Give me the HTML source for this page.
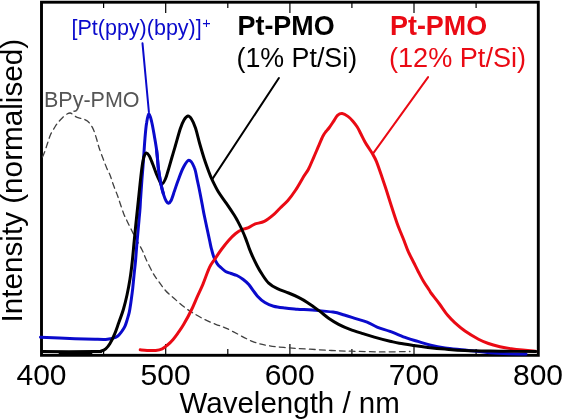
<!DOCTYPE html>
<html><head><meta charset="utf-8"><style>
html,body{margin:0;padding:0;background:#fff;width:562px;height:420px;overflow:hidden}
svg{display:block;will-change:transform;font-family:"Liberation Sans",sans-serif}
</style></head><body>
<svg width="562" height="420" viewBox="0 0 562 420">
<g stroke="#000" stroke-width="1.2"><line x1="103.6" y1="355" x2="103.6" y2="349.0"/><line x1="103.6" y1="2" x2="103.6" y2="8.0"/><line x1="165.7" y1="355" x2="165.7" y2="344.0"/><line x1="165.7" y1="2" x2="165.7" y2="13.0"/><line x1="227.8" y1="355" x2="227.8" y2="349.0"/><line x1="227.8" y1="2" x2="227.8" y2="8.0"/><line x1="289.9" y1="355" x2="289.9" y2="344.0"/><line x1="289.9" y1="2" x2="289.9" y2="13.0"/><line x1="351.9" y1="355" x2="351.9" y2="349.0"/><line x1="351.9" y1="2" x2="351.9" y2="8.0"/><line x1="414.0" y1="355" x2="414.0" y2="344.0"/><line x1="414.0" y1="2" x2="414.0" y2="13.0"/><line x1="476.1" y1="355" x2="476.1" y2="349.0"/><line x1="476.1" y1="2" x2="476.1" y2="8.0"/></g>
<rect x="41.5" y="2.2" width="496.8" height="353.1" fill="none" stroke="#000" stroke-width="2.9"/>
<g fill="none" stroke-linejoin="round" stroke-linecap="round">
<path d="M42.5,157.0 C42.9,156.2 43.9,153.8 44.6,152.0 C45.3,150.2 45.9,148.3 46.5,146.4 C47.1,144.5 47.7,142.7 48.4,140.7 C49.1,138.7 49.5,136.8 50.6,134.5 C51.7,132.2 53.6,129.1 54.9,127.0 C56.2,124.9 57.1,123.7 58.5,122.0 C59.9,120.3 61.7,118.4 63.2,117.0 C64.7,115.6 66.2,114.5 67.4,113.8 C68.6,113.1 69.4,112.9 70.3,113.0 C71.2,113.1 71.9,113.9 73.0,114.6 C74.1,115.3 75.5,116.6 76.7,117.2 C78.0,117.8 79.3,118.0 80.5,118.3 C81.7,118.6 82.8,118.8 84.0,119.2 C85.2,119.7 86.3,120.1 87.4,121.0 C88.5,121.9 89.5,122.9 90.5,124.4 C91.5,125.9 92.6,127.6 93.6,130.0 C94.6,132.4 95.6,135.8 96.6,139.0 C97.6,142.2 97.8,144.2 99.5,149.0 C101.2,153.8 105.0,163.8 106.7,168.1 C108.5,172.4 108.8,172.0 110.0,175.0 C111.2,178.0 112.5,182.6 113.8,186.0 C115.0,189.4 116.5,192.7 117.5,195.5 C118.5,198.3 119.0,200.0 120.0,203.0 C121.0,206.0 122.5,210.6 123.6,213.5 C124.7,216.4 125.6,217.9 126.8,220.5 C128.0,223.1 129.6,226.2 131.0,229.0 C132.4,231.8 133.2,233.6 135.0,237.1 C136.8,240.6 140.2,246.2 142.1,250.0 C144.0,253.8 144.6,256.2 146.4,260.0 C148.2,263.8 150.9,269.3 152.9,272.9 C154.9,276.5 156.5,278.4 158.6,281.4 C160.7,284.4 163.1,287.8 165.7,290.7 C168.3,293.6 171.2,295.9 174.3,298.6 C177.4,301.3 181.2,304.7 184.3,307.1 C187.4,309.5 189.6,310.9 192.9,312.9 C196.2,314.9 200.5,317.4 204.3,319.3 C208.1,321.2 211.9,322.8 215.7,324.3 C219.5,325.9 221.0,325.8 227.1,328.6 C233.2,331.4 245.1,338.4 252.2,341.3 C259.3,344.2 263.5,344.7 269.7,345.8 C275.9,346.9 282.9,347.3 289.6,347.9 C296.3,348.5 303.0,348.8 310.0,349.2 C317.0,349.6 324.5,350.2 331.4,350.5 C338.3,350.8 343.1,351.0 351.4,351.2 C359.7,351.4 371.6,351.8 381.4,351.9 C391.2,351.9 405.2,351.6 410.0,351.5" stroke="#404040" stroke-width="1.3" stroke-dasharray="5.8,4.2"/>
<path d="M40.5,337.3 C46.2,337.5 65.9,338.4 75.0,338.7 C84.1,339.0 89.9,339.2 95.0,339.3 C100.1,339.4 102.9,339.5 105.7,339.4 C108.5,339.2 110.1,338.9 112.1,338.4 C114.1,337.9 115.9,337.5 117.5,336.3 C119.1,335.1 120.5,333.1 121.8,331.4 C123.0,329.7 124.1,328.1 125.0,326.1 C125.9,324.1 126.5,321.9 127.2,319.6 C127.9,317.3 128.7,314.9 129.3,312.1 C129.9,309.3 130.2,306.8 130.8,302.9 C131.4,299.0 132.1,293.4 132.7,288.6 C133.2,283.8 133.6,279.1 134.1,274.3 C134.6,269.5 135.1,265.7 135.6,260.0 C136.1,254.3 136.6,246.7 137.2,240.0 C137.8,233.3 138.6,225.0 139.0,220.0 C139.4,215.0 139.7,213.3 139.9,210.0 C140.2,206.7 140.2,205.0 140.5,200.0 C140.8,195.0 141.5,185.8 141.9,180.0 C142.3,174.2 142.8,169.7 143.1,165.0 C143.4,160.3 143.7,156.5 144.0,152.0 C144.3,147.5 144.6,142.8 145.0,138.0 C145.4,133.2 145.9,127.0 146.6,123.0 C147.2,119.0 148.1,114.0 148.9,113.8 C149.8,113.6 150.8,118.3 151.7,122.0 C152.6,125.7 153.5,131.0 154.3,135.7 C155.1,140.4 156.1,145.9 156.6,150.0 C157.1,154.1 157.3,156.7 157.6,160.0 C157.9,163.3 158.0,166.0 158.6,170.0 C159.2,174.0 160.1,179.8 160.9,183.9 C161.7,188.0 162.7,191.7 163.6,194.6 C164.5,197.5 165.5,199.9 166.3,201.3 C167.1,202.7 167.6,203.3 168.4,203.2 C169.2,203.1 170.1,202.5 171.1,200.5 C172.1,198.5 173.2,194.7 174.3,191.4 C175.5,188.1 176.5,184.6 178.0,180.7 C179.5,176.8 181.3,171.4 183.1,168.0 C184.9,164.6 186.9,160.3 188.8,160.2 C190.7,160.1 192.9,164.0 194.3,167.5 C195.8,171.0 196.5,176.6 197.5,181.0 C198.5,185.4 199.4,189.8 200.2,194.0 C201.0,198.2 201.8,202.2 202.5,206.0 C203.2,209.8 203.4,211.3 204.6,217.0 C205.8,222.7 208.4,234.8 209.5,240.0 C210.6,245.2 210.6,245.5 211.3,248.3 C212.0,251.1 212.7,254.1 213.7,256.7 C214.7,259.3 216.0,261.9 217.3,263.8 C218.6,265.7 220.0,266.7 221.4,268.0 C222.8,269.3 224.0,270.6 225.6,271.5 C227.2,272.4 229.1,272.8 231.0,273.5 C232.9,274.2 234.9,274.5 236.9,275.5 C238.9,276.5 240.9,277.8 242.9,279.3 C244.9,280.8 246.4,281.7 248.8,284.5 C251.2,287.3 254.8,293.2 257.5,296.2 C260.2,299.2 262.2,300.8 264.9,302.5 C267.6,304.2 270.3,305.3 273.6,306.2 C276.9,307.1 280.9,307.5 284.9,308.0 C288.8,308.5 292.8,308.8 297.3,309.2 C301.9,309.6 306.3,309.6 312.2,310.1 C318.1,310.6 327.5,311.3 332.9,312.1 C338.2,312.9 340.5,313.9 344.3,315.0 C348.1,316.1 351.9,317.4 355.7,318.6 C359.5,319.8 363.5,320.7 367.1,322.1 C370.7,323.5 373.3,325.6 377.1,327.1 C380.9,328.7 385.1,329.6 390.0,331.4 C394.9,333.2 401.8,336.2 406.4,337.9 C411.0,339.6 413.8,340.2 417.9,341.4 C421.9,342.6 426.2,344.1 430.7,345.2 C435.2,346.3 439.3,347.1 445.0,347.9 C450.7,348.7 457.5,349.2 465.0,350.0 C472.5,350.8 482.5,352.2 490.0,352.8 C497.5,353.4 504.0,353.6 510.0,353.8 C516.0,354.0 523.3,354.1 526.0,354.1" stroke="#0a0acc" stroke-width="3"/>
<path d="M140.2,349.8 C141.3,349.9 144.5,350.3 147.1,350.4 C149.7,350.5 153.2,350.7 155.7,350.4 C158.2,350.1 160.2,349.7 162.2,348.8 C164.2,347.9 165.7,346.5 167.5,345.0 C169.3,343.5 171.1,341.8 172.9,339.7 C174.7,337.6 176.4,335.2 178.2,332.7 C180.0,330.2 181.4,328.4 183.6,324.6 C185.8,320.8 189.2,314.6 191.4,310.0 C193.7,305.4 195.2,301.4 197.1,297.1 C199.0,292.8 200.8,289.2 202.9,284.3 C205.0,279.4 207.5,271.6 209.5,267.4 C211.5,263.2 212.9,262.0 214.9,259.0 C216.9,256.0 219.1,252.6 221.4,249.5 C223.7,246.4 226.2,243.2 228.6,240.5 C231.0,237.8 233.4,235.3 235.7,233.5 C237.9,231.7 240.1,230.4 242.1,229.5 C244.1,228.6 245.9,228.8 247.9,227.9 C249.9,227.0 251.6,225.4 254.3,224.3 C257.0,223.2 261.2,222.9 264.3,221.4 C267.4,219.9 270.4,217.4 273.0,215.2 C275.6,213.0 277.7,210.4 280.2,208.0 C282.7,205.6 285.3,203.4 287.9,200.5 C290.4,197.6 293.0,194.1 295.5,190.3 C298.0,186.5 301.0,181.0 303.1,177.5 C305.2,174.0 306.6,172.7 308.3,169.5 C310.0,166.3 311.6,162.1 313.3,158.3 C315.0,154.5 316.7,150.4 318.3,146.7 C319.9,143.0 321.7,138.5 323.0,136.0 C324.3,133.5 325.0,132.8 326.0,131.5 C327.0,130.2 327.8,129.6 329.0,128.0 C330.2,126.4 331.9,123.8 333.3,121.7 C334.7,119.6 336.0,116.8 337.5,115.4 C339.0,114.1 340.5,113.4 342.2,113.6 C343.9,113.8 346.1,115.1 347.9,116.4 C349.7,117.7 351.4,119.5 352.9,121.2 C354.4,122.9 355.8,124.8 357.1,126.8 C358.4,128.8 359.4,131.0 360.7,133.5 C362.0,136.0 363.6,139.4 365.0,142.0 C366.4,144.6 368.0,146.8 369.3,148.8 C370.6,150.8 371.4,151.9 372.6,154.0 C373.8,156.1 375.0,157.9 376.4,161.4 C377.8,164.9 379.8,170.7 381.2,174.8 C382.6,178.9 383.7,182.1 385.0,186.0 C386.3,189.9 387.7,194.3 389.0,198.5 C390.3,202.7 391.7,206.9 393.0,211.0 C394.3,215.1 395.8,219.5 397.0,223.0 C398.2,226.5 399.3,229.1 400.5,232.0 C401.7,234.9 402.7,237.2 404.0,240.5 C405.3,243.8 406.8,248.2 408.3,251.7 C409.9,255.2 411.6,258.4 413.3,261.7 C415.0,265.0 416.6,268.5 418.3,271.7 C420.0,274.9 421.5,277.9 423.3,281.0 C425.1,284.1 427.9,288.0 429.2,290.0 C430.5,292.0 429.3,290.7 431.0,293.0 C432.7,295.3 436.7,300.2 439.5,304.0 C442.3,307.8 445.3,312.4 447.9,315.5 C450.5,318.6 452.1,320.2 455.0,322.8 C457.9,325.4 461.1,328.3 465.0,331.0 C468.9,333.7 474.6,337.1 478.5,339.2 C482.4,341.3 484.9,342.2 488.5,343.5 C492.1,344.8 496.1,345.8 499.9,346.7 C503.7,347.6 507.4,348.1 511.2,348.7 C515.0,349.3 518.6,349.7 522.6,350.1 C526.6,350.5 533.3,351.1 535.4,351.3" stroke="#ea0a14" stroke-width="3"/>
<path d="M42.0,351.6 C50.8,351.6 85.1,351.7 95.0,351.6 C104.9,351.5 99.6,351.4 101.4,350.9 C103.2,350.4 104.3,350.0 105.7,348.8 C107.1,347.6 108.5,346.0 110.0,343.5 C111.5,341.0 113.3,337.2 114.8,333.6 C116.3,330.0 117.5,326.1 119.0,322.0 C120.5,317.9 122.2,313.5 123.5,309.0 C124.8,304.5 125.9,300.0 127.0,295.0 C128.1,290.0 129.1,284.5 130.0,279.0 C130.9,273.5 131.5,268.5 132.2,262.0 C132.9,255.5 133.6,247.0 134.3,240.0 C135.0,233.0 135.6,226.7 136.3,220.0 C137.0,213.3 137.7,206.6 138.4,200.0 C139.1,193.4 139.8,186.3 140.4,180.7 C141.0,175.1 141.5,170.3 142.1,166.4 C142.7,162.5 143.2,159.2 143.9,157.0 C144.6,154.8 145.4,153.2 146.3,153.0 C147.2,152.8 148.2,154.0 149.3,155.9 C150.4,157.8 151.7,161.5 152.9,164.5 C154.1,167.5 155.3,171.3 156.4,174.0 C157.5,176.7 158.5,178.8 159.4,180.5 C160.3,182.2 160.6,184.6 161.6,184.3 C162.6,184.1 164.3,181.4 165.4,179.0 C166.5,176.6 167.2,173.6 168.3,170.0 C169.4,166.4 170.8,161.3 171.9,157.5 C173.0,153.7 173.5,152.2 174.9,147.4 C176.3,142.7 178.7,133.6 180.2,129.0 C181.7,124.4 182.7,122.2 184.0,120.0 C185.3,117.8 186.7,116.2 187.9,116.0 C189.2,115.8 190.2,117.0 191.5,119.0 C192.8,121.0 194.1,123.8 195.5,128.0 C196.9,132.2 198.3,138.8 199.8,144.0 C201.3,149.2 202.8,154.4 204.3,159.0 C205.8,163.6 207.5,168.2 208.8,171.7 C210.1,175.2 210.7,176.8 212.3,180.2 C213.9,183.5 216.0,187.9 218.3,191.8 C220.7,195.7 223.8,199.6 226.4,203.4 C229.0,207.2 232.2,212.0 234.0,214.8 C235.8,217.6 235.8,217.5 237.1,220.0 C238.4,222.5 240.7,226.9 242.1,230.0 C243.5,233.1 244.5,235.5 245.7,238.6 C246.9,241.7 248.1,245.5 249.3,248.6 C250.5,251.7 251.6,254.3 252.9,257.1 C254.2,260.0 255.6,262.8 257.1,265.7 C258.6,268.6 260.2,271.4 262.1,274.3 C264.0,277.2 266.1,280.7 268.7,283.1 C271.2,285.5 274.1,287.1 277.4,288.7 C280.7,290.3 285.1,291.6 288.6,293.0 C292.1,294.4 295.4,295.8 298.5,297.4 C301.6,299.0 303.9,300.2 307.3,302.4 C310.7,304.6 315.1,307.8 318.6,310.4 C322.2,313.0 325.3,315.9 328.6,318.2 C331.9,320.5 335.0,322.4 338.6,324.3 C342.2,326.2 345.9,327.8 350.0,329.3 C354.1,330.9 358.8,332.3 362.9,333.6 C366.9,334.9 369.8,335.8 374.3,337.1 C378.8,338.4 385.8,340.2 390.0,341.2 C394.2,342.2 395.4,342.6 399.3,343.3 C403.2,344.0 408.8,344.8 413.6,345.5 C418.4,346.2 422.7,346.8 427.9,347.4 C433.1,348.0 438.8,348.6 445.0,349.1 C451.2,349.6 455.8,350.1 465.0,350.5 C474.2,350.9 488.2,351.0 500.0,351.2 C511.8,351.4 530.0,351.5 536.0,351.6" stroke="#000" stroke-width="3"/>
<path d="M156.6,150.0 C156.8,151.7 157.3,156.7 157.6,160.0 C157.9,163.3 158.0,166.0 158.6,170.0 C159.2,174.0 160.1,179.8 160.9,183.9 C161.7,188.0 163.2,192.8 163.6,194.6" stroke="#0a0acc" stroke-width="3" stroke-linecap="butt"/>
<rect x="58.7" y="352" width="33.6" height="2.6" fill="#000" stroke="none"/>
<line x1="142.5" y1="43.3" x2="148.9" y2="112" stroke="#0a0acc" stroke-width="2"/>
<line x1="278.9" y1="78" x2="212" y2="179.6" stroke="#000" stroke-width="2"/>
<line x1="428.1" y1="77.1" x2="373" y2="153.6" stroke="#ea0a14" stroke-width="2"/>
</g>
<g font-size="30" fill="#000" text-anchor="middle">
<text x="41.5" y="385.2">400</text>
<text x="165.6" y="385.2">500</text>
<text x="289.7" y="385.2">600</text>
<text x="413.9" y="385.2">700</text>
<text x="538" y="385.2">800</text>
<text x="289.7" y="413" font-size="29.5">Wavelength / nm</text>
<text transform="translate(22,180.7) rotate(-90)" x="0" y="0" font-size="29.7">Intensity (normalised)</text>
</g>
<text x="71.5" y="34.5" font-size="21.5" fill="#0a0acc">[Pt(ppy)(bpy)]<tspan font-size="14.5" dy="-6.3" dx="0.6">+</tspan></text>
<text x="237.5" y="35.1" font-size="26.9" font-weight="bold" fill="#000">Pt-PMO</text>
<text x="236.5" y="66.5" font-size="26.8" fill="#000">(1% Pt/Si)</text>
<text x="390" y="34.7" font-size="26.9" font-weight="bold" fill="#ea0a14">Pt-PMO</text>
<text x="389" y="67.1" font-size="27.1" fill="#ea0a14">(12% Pt/Si)</text>
<text x="44" y="107" font-size="21.5" fill="#555">BPy-PMO</text>
</svg>
</body></html>
